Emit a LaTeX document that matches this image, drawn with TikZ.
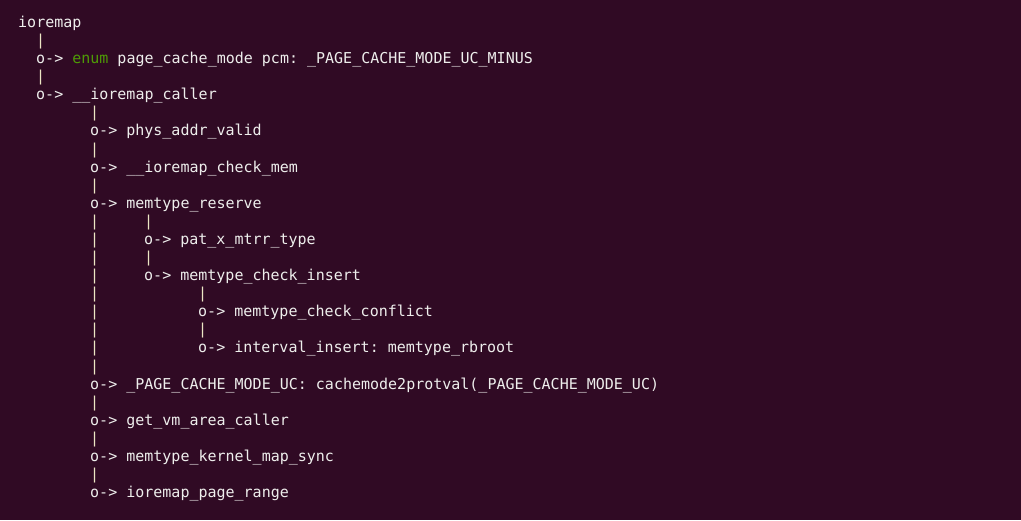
\documentclass[tikz,border=0pt]{standalone}
\usepackage{fontspec}
\setmonofont{DejaVu Sans Mono}
\usepackage{tikz}
\definecolor{termbg}{HTML}{300A24}
\definecolor{termfg}{HTML}{EEEEEC}
\definecolor{pipefg}{HTML}{ECE6C4}
\definecolor{kwgreen}{HTML}{4E9A06}
\tikzset{
  term/.style={
    anchor=base west,
    inner sep=0pt,
    text=termfg,
    font=\ttfamily\fontsize{15}{18}\selectfont,
  },
  pipe/.style={
    term, text=pipefg,
  },
}

\begin{document}
\begin{tikzpicture}[x=9pt, y=-18.08pt]
\fill[termbg] (0pt,0pt) rectangle (1021pt,-520pt);
\useasboundingbox (0pt,0pt) rectangle (1021pt,-520pt);
\begin{scope}[shift={(18pt,-27.5pt)}]
\node[term] (ioremap) at (0,0) {ioremap};
\node[term] (pcm) at (2,2) {o-> {\color{kwgreen}enum} page\_cache\_mode pcm: \_PAGE\_CACHE\_MODE\_UC\_MINUS};
\node[term] (caller) at (2,4) {o-> \_\_ioremap\_caller};
\node[term] (valid) at (8,6) {o-> phys\_addr\_valid};
\node[term] (checkmem) at (8,8) {o-> \_\_ioremap\_check\_mem};
\node[term] (reserve) at (8,10) {o-> memtype\_reserve};
\node[term] (mtrr) at (14,12) {o-> pat\_x\_mtrr\_type};
\node[term] (insert) at (14,14) {o-> memtype\_check\_insert};
\node[term] (conflict) at (20,16) {o-> memtype\_check\_conflict};
\node[term] (rbroot) at (20,18) {o-> interval\_insert: memtype\_rbroot};
\node[term] (protval) at (8,20) {o-> \_PAGE\_CACHE\_MODE\_UC: cachemode2protval(\_PAGE\_CACHE\_MODE\_UC)};
\node[term] (vmarea) at (8,22) {o-> get\_vm\_area\_caller};
\node[term] (mapsync) at (8,24) {o-> memtype\_kernel\_map\_sync};
\node[term] (range) at (8,26) {o-> ioremap\_page\_range};

% the | columns
\foreach \l in { 1, 3 }
  \node[pipe] (p-2-\l) at (2,\l) {|};
\foreach \l in { 5, 7, 9, 11, 12, ..., 19, 21, 23, 25 }
  \node[pipe] (p-8-\l) at (8,\l) {|};
\foreach \l in { 11, 13 }
  \node[pipe] (p-14-\l) at (14,\l) {|};
\foreach \l in { 15, 17 }
  \node[pipe] (p-20-\l) at (20,\l) {|};
\end{scope}
\end{tikzpicture}
\end{document}
